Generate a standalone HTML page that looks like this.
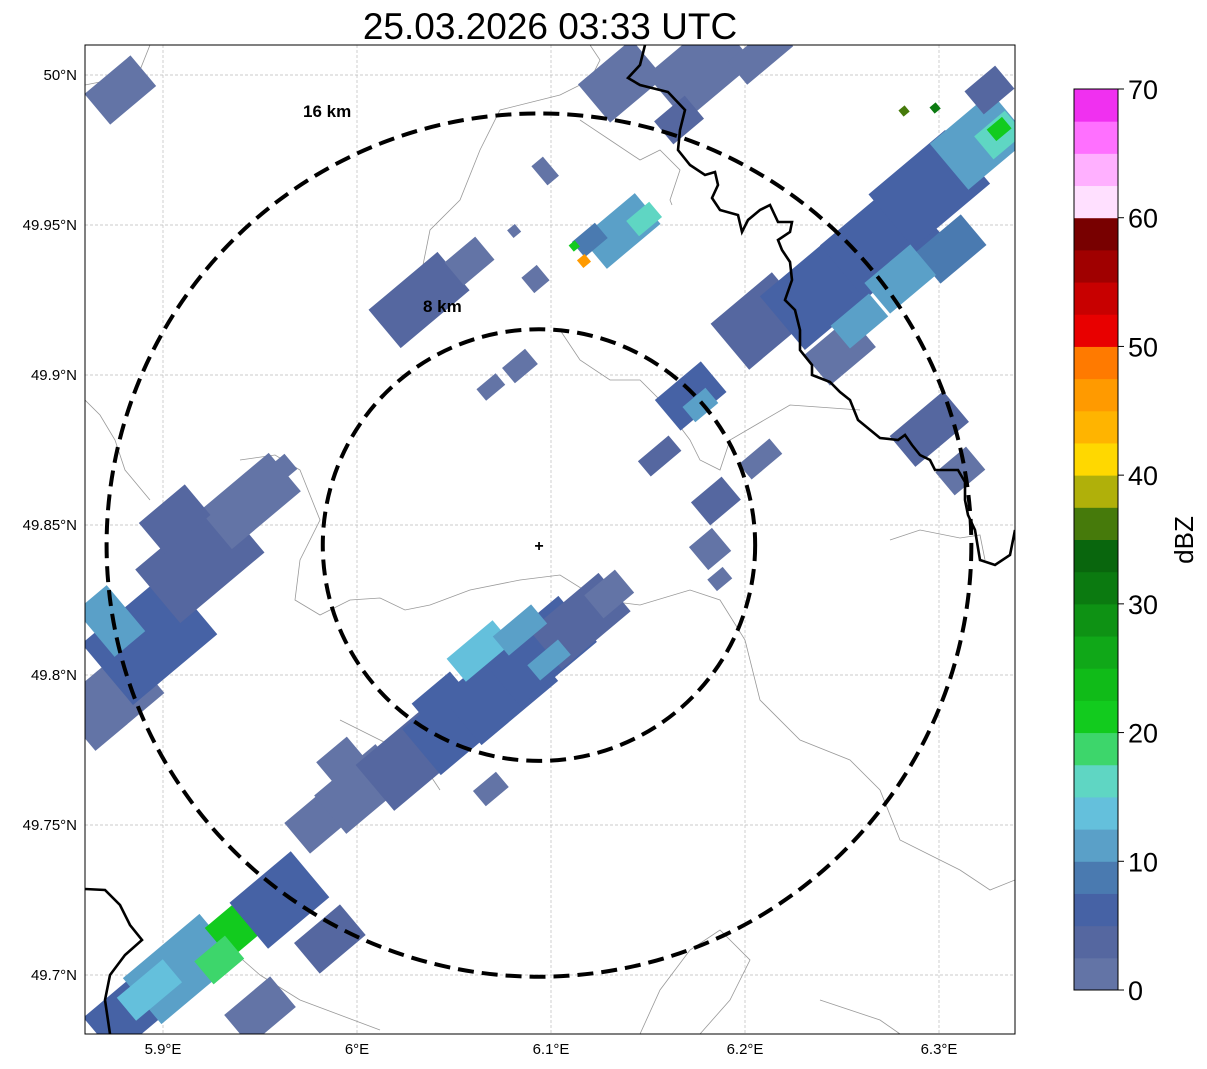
<!DOCTYPE html>
<html><head><meta charset="utf-8"><style>
html,body{margin:0;padding:0;background:#fff;}
svg{display:block;font-family:"Liberation Sans","DejaVu Sans",sans-serif;}
</style></head><body>
<svg id="chart" width="1207" height="1069" viewBox="0 0 1207 1069" xmlns="http://www.w3.org/2000/svg">
<text x="550" y="39" font-size="37" text-anchor="middle">25.03.2026 03:33 UTC</text>
<defs><clipPath id="mapclip"><rect x="85" y="45" width="930" height="989"/></clipPath></defs>
<g id="map" clip-path="url(#mapclip)">
<g id="grid"></g>
<g id="borders" fill="none" stroke="#999" stroke-width="0.8">
<path d="M85,400 L100,415 L115,440 L125,470 L150,500 M85,85 L110,80 L140,70 L150,45"/>
<path d="M240,460 L275,455 L300,470 L320,520 L300,560 L295,600 L320,615 L350,600 L380,598 L405,610 L430,605 L470,590 L520,580 L560,575 L600,600 L640,605 L690,590 L720,600 L745,640 L760,700 L800,740 L850,760 L880,790 L900,840 L930,855 L960,870 L990,890 L1015,880"/>
<path d="M590,45 L600,60 L590,80 L560,95 L500,110 L480,150 L460,200 L430,230 L420,280 L400,300"/>
<path d="M580,120 L610,140 L640,160 L660,150 L680,170 L670,200 L672,205"/>
<path d="M560,330 L580,360 L610,380 L640,380 L660,400 L690,440 L700,460 L720,470 L730,440 L790,405 L860,410"/>
<path d="M890,540 L920,530 L960,538 L980,535 L985,560"/>
<path d="M340,720 L380,740 L420,760 L440,790"/>
<path d="M150,960 L180,935 L220,940 L260,975 L300,1000 L340,1015 L380,1030 M700,1034 L730,1000 L750,960 L720,930 L690,950 L660,990 L640,1034 M820,1000 L880,1020 L900,1034"/>
</g>
<g id="echoes"></g>
<g fill="none" stroke="#000" stroke-width="2.6">
<path d="M645,45 L640,65 L628,78 L640,85 L668,92 L685,110 L680,130 L678,150 L690,165 L705,175 L715,172 L718,185 L712,198 L720,210 L738,215 L742,232 L748,220 L760,210 L770,205 L778,222 L792,222 L790,232 L778,240 L782,250 L790,262 L792,280 L785,300 L795,310 L800,330 L800,350 L812,365 L812,375 L830,382 L840,392 L850,400 L858,420 L880,438 L898,440 L905,435 L912,445 L920,455 L930,460 L935,470 L958,470 L965,482 L965,500 L968,515 L975,530 L980,560 L995,565 L1010,555 L1015,530"/>
<path d="M85,889 L105,890 L120,905 L130,925 L142,940 L125,955 L110,975 L105,1000 L110,1034"/>
</g>
<g id="rings" fill="none" stroke="#000" stroke-width="4" stroke-dasharray="16,8"></g>
<text x="303" y="117" font-size="17" font-weight="bold">16 km</text>
<text x="423" y="312" font-size="17" font-weight="bold">8 km</text>
<text x="539" y="551" font-size="16" font-weight="bold" text-anchor="middle">+</text>
</g>
<rect x="85" y="45" width="930" height="989" fill="none" stroke="#000" stroke-width="1"/>
<g id="axes" font-size="15"></g>
<g id="cbar"></g>
<text transform="translate(1193,540) rotate(-90)" font-size="26" text-anchor="middle">dBZ</text>
</svg>
<script>
const lonTicks=[5.9,6.0,6.1,6.2,6.3];
const lonTickLabels=["5.9°E","6°E","6.1°E","6.2°E","6.3°E"];
const latTicks=[50.0,49.95,49.9,49.85,49.8,49.75,49.7];
const latTickLabels=["50°N","49.95°N","49.9°N","49.85°N","49.8°N","49.75°N","49.7°N"];
const cbarTicks=[0,10,20,30,40,50,60,70];
const cbarColors=["#6374a6","#5567a0","#4662a5","#4a7ab0","#5aa0c8","#64c0dc","#5fd6c3","#3dd66b","#12cb1e","#10bb18","#10a818","#0e9214","#0b7a10","#09660d","#467a0b","#b0b00a","#ffd800","#ffb400","#ff9a00","#ff7a00","#e80000","#c80000","#a00000","#780000","#ffe0ff","#ffb0ff","#ff70ff","#f030f0"];
const ringKm=[8,16];
const siteLon=6.0938, siteLat=49.8433;
const echoLon=[5.981,6.002,6.027,6.053,6.074,6.094,6.115,6.130,6.063,6.084,6.099,6.043,5.991,6.069,
5.873,5.893,5.919,5.945,5.873,5.906,5.960,
5.883,5.909,5.940,5.929,5.960,5.986,5.893,5.950,
6.208,6.239,6.270,6.295,6.321,6.331,6.331,6.249,6.306,6.280,6.259,6.326,6.295,6.311,6.298,6.282,
6.136,6.177,6.208,6.166,5.878,
6.032,6.058,6.084,6.069,6.136,6.148,6.120,6.117,6.112,6.172,6.177,6.156,6.185,6.208,6.182,6.187,6.092,6.097,6.081];
const echoLat=[49.752,49.762,49.772,49.785,49.795,49.808,49.818,49.827,49.808,49.815,49.805,49.792,49.772,49.762,
49.792,49.812,49.838,49.858,49.818,49.852,49.868,
49.688,49.702,49.717,49.705,49.725,49.712,49.695,49.688,
49.918,49.928,49.945,49.962,49.978,49.980,49.982,49.908,49.942,49.932,49.918,49.995,49.882,49.868,49.989,49.988,
49.998,50.002,50.007,49.985,49.995,
49.925,49.938,49.903,49.896,49.948,49.952,49.945,49.938,49.943,49.893,49.890,49.873,49.858,49.872,49.842,49.832,49.932,49.968,49.948];
const echoDbz=[2,2,3,5,6,5,3,2,13,11,10,7,2,2,
2,5,4,2,10,3,2,
5,11,22,18,5,3,13,2,
3,5,7,5,10,17,22,2,8,12,10,3,3,2,32,35,
2,2,2,3,2,
3,2,2,2,10,15,8,45,20,5,10,3,3,2,2,2,2,2,2];
const echoLen=[60,80,90,100,100,100,90,40,60,50,40,50,40,30,90,110,110,90,40,60,30,80,100,60,40,80,60,60,60,80,100,100,100,80,40,20,60,60,60,50,40,70,40,8,8,70,90,60,40,60,90,40,30,25,70,30,30,10,8,60,30,40,40,40,30,20,20,15,10];
const echoWid=[40,50,60,60,60,60,50,30,30,25,20,30,25,20,60,80,70,50,60,40,20,50,60,40,30,60,40,30,40,60,70,70,70,60,30,15,40,40,40,30,30,40,30,8,8,50,60,30,30,40,50,30,20,15,40,20,20,10,8,40,20,20,30,20,30,15,20,25,10];

const NS="http://www.w3.org/2000/svg";
const X=lon=>163+(lon-5.9)*1940;
const Y=lat=>75+(50-lat)*3000;
const CB=v=>990-(v/70)*901;
function mk(tag,attrs,parent){const e=document.createElementNS(NS,tag);for(const k in attrs)e.setAttribute(k,attrs[k]);parent.appendChild(e);return e;}
const grid=document.getElementById('grid'),axes=document.getElementById('axes');
lonTicks.forEach((t,i)=>{
 const l=mk('line',{x1:X(t),x2:X(t),y1:45,y2:1034,stroke:'#bbb','stroke-width':0.7,'stroke-dasharray':'3,2'},grid);
 
 
 const tx=mk('text',{x:X(t),y:1054,'text-anchor':'middle'},axes);tx.textContent=lonTickLabels[i];
 
 
});
latTicks.forEach((t,i)=>{
 const l=mk('line',{x1:85,x2:1015,y1:Y(t),y2:Y(t),stroke:'#bbb','stroke-width':0.7,'stroke-dasharray':'3,2'},grid);
 
 
 const tx=mk('text',{x:77,y:Y(t)+5,'text-anchor':'end'},axes);tx.textContent=latTickLabels[i];
 
 
});
const echoes=document.getElementById('echoes');
echoLon.forEach((lon,i)=>{
 const cx=X(lon),cy=Y(echoLat[i]),w=echoLen[i],h=echoWid[i];
 const idx=Math.min(cbarColors.length-1,Math.floor(echoDbz[i]/2.5));
 const r=mk('rect',{x:cx-w/2,y:cy-h/2,width:w,height:h,fill:cbarColors[idx],transform:`rotate(-40 ${cx} ${cy})`},echoes);
 
 
});
const rings=document.getElementById('rings');
ringKm.forEach(km=>{
 const ry=km/111.2*3000, rx=km/(111.32*Math.cos(siteLat*Math.PI/180))*1940;
 const e=mk('ellipse',{cx:X(siteLon),cy:Y(siteLat),rx:rx,ry:ry},rings);
 
 
});
const cbar=document.getElementById('cbar');
cbarColors.forEach((c,i)=>{
 const v0=i*2.5,v1=v0+2.5;
 const r=mk('rect',{x:1074,y:CB(v1),width:44,height:CB(v0)-CB(v1)+0.5,fill:c},cbar);
 
 
});
mk('rect',{x:1074,y:89,width:44,height:901,fill:'none',stroke:'#000','stroke-width':1},cbar);
cbarTicks.forEach(t=>{
 mk('line',{x1:1118,x2:1124,y1:CB(t),y2:CB(t),stroke:'#000'},cbar);
 const tx=mk('text',{x:1128,y:CB(t)+10,'font-size':27},cbar);tx.textContent=t;
 
 
});
</script>
</body></html>
